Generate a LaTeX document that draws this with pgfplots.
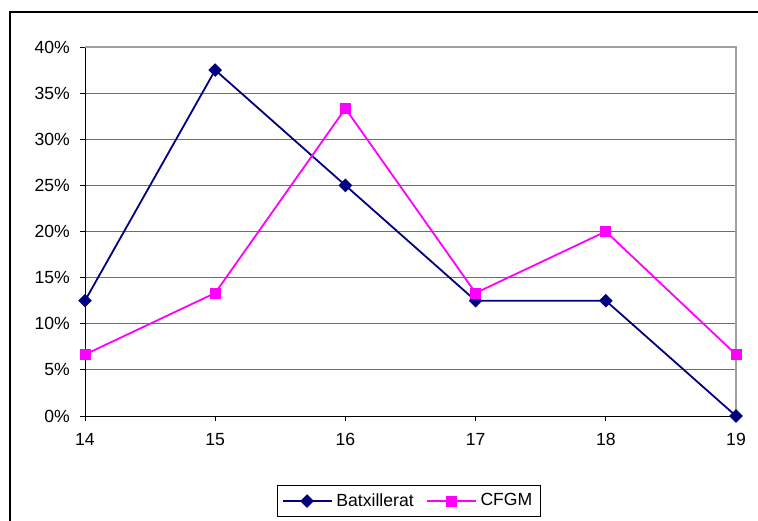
\documentclass[border=0pt]{standalone}
\usepackage{pgfplots}
\pgfplotsset{compat=1.18}
\usepackage{fontspec}
\setmainfont{Liberation Sans}
\definecolor{bat}{RGB}{0,0,128}
\definecolor{cfgm}{RGB}{255,0,255}
\definecolor{gridc}{RGB}{110,110,110}
\definecolor{borderc}{RGB}{160,160,160}
\begin{document}
\fontsize{8.8}{10.5}\selectfont
\begin{tikzpicture}
\path[use as bounding box] (0pt,0pt) rectangle (379pt,260pt);
\draw[black,line width=0.6pt] (5pt,-20pt) rectangle (400pt,254pt);
\begin{axis}[
  at={(42.5pt,52pt)}, anchor=south west,
  scale only axis,
  width=325.5pt, height=184.5pt,
  xmin=14, xmax=19, ymin=0, ymax=40,
  xtick={14,15,16,17,18,19},
  ytick={0,5,...,40},
  yticklabel={\pgfmathprintnumber{\tick}\%},
  /pgf/number format/assume math mode=true,
  axis x line*=bottom, axis y line*=left,
  axis line style={-, black, line width=0.5pt},
  tick align=outside,
  major tick length=2.5pt,
  tick style={black, line width=0.5pt},
  ymajorgrids,
  major grid style={gridc, line width=0.5pt},
  clip=false,
  tick label style={font=\fontsize{8.8}{10.5}\selectfont},
  xticklabel style={yshift=-3pt},
  yticklabel style={xshift=-2pt},
  legend style={at={(0.4977,-0.2304)}, anchor=center, draw=black, line width=0.5pt,
    legend columns=2, font=\fontsize{8.8}{10.5}\selectfont,
    inner xsep=2pt, inner ysep=2pt,
    /tikz/every even column/.append style={column sep=4pt}},
  legend image code/.code={\draw[mark repeat=2,mark phase=2] plot coordinates {(0pt,0pt) (12.25pt,0pt) (24.5pt,0pt)};},
]
\draw[borderc, line width=0.6pt] (rel axis cs:0,1) -- (rel axis cs:1,1) -- (rel axis cs:1,0);
\addplot[bat, line width=0.9pt, mark=square*, mark size=1.95pt, mark options={rotate=45, fill=bat, draw=bat}]
  coordinates {(14,12.5) (15,37.5) (16,25) (17,12.5) (18,12.5) (19,0)};
\addlegendentry{Batxillerat}
\addplot[cfgm, line width=0.9pt, mark=square*, mark size=2.3pt, mark options={fill=cfgm, draw=cfgm}]
  coordinates {(14,6.6667) (15,13.3333) (16,33.3333) (17,13.3333) (18,20) (19,6.6667)};
\addlegendentry{CFGM}
\end{axis}
\end{tikzpicture}
\end{document}
